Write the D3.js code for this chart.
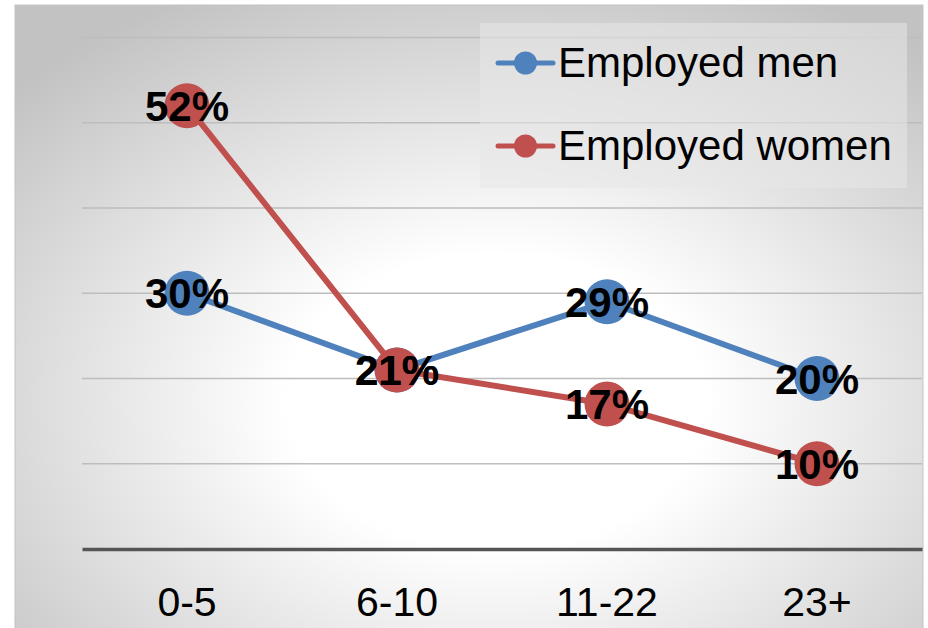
<!DOCTYPE html>
<html>
<head>
<meta charset="utf-8">
<script src="https://cdn.jsdelivr.net/npm/d3@7"></script>
<style>
  html, body { margin: 0; padding: 0; background: #fff; }
  svg { display: block; font-family: "Liberation Sans", Arial, sans-serif; }
</style>
</head>
<body>
<svg id="chart" width="928" height="628"></svg>
<script>
// Tenure groups on the x axis
const categories = ["0-5", "6-10", "11-22", "23+"];
// Share of employed respondents per group (%)
const menValues = [30, 21, 29, 20];
const womenValues = [52, 21, 17, 10];
const seriesNames = ["Employed men", "Employed women"];
const seriesColors = ["#4f81bd", "#c0504d"];
// Horizontal gridline positions (%)
const gridTicks = [10, 20, 30, 40, 50, 60];

const series = [
  { name: seriesNames[0], color: seriesColors[0], values: menValues },
  { name: seriesNames[1], color: seriesColors[1], values: womenValues }
];

const svg = d3.select("#chart");
const frame = { x: 15, y: 5, w: 908, h: 640 };
const plot = { left: 82, right: 922, top: 37.5, bottom: 549 };

// Radial background fill of the chart area
const defs = svg.append("defs");
const grad = defs.append("radialGradient")
  .attr("id", "bg")
  .attr("cx", 0.53).attr("cy", 0.62).attr("r", 0.72)
  .attr("fx", 0.53).attr("fy", 0.62);
grad.append("stop").attr("offset", 0).attr("stop-color", "#ffffff");
grad.append("stop").attr("offset", 0.32).attr("stop-color", "#ffffff");
grad.append("stop").attr("offset", 1).attr("stop-color", "#c2c2c2");

svg.append("rect")
  .attr("x", frame.x).attr("y", frame.y)
  .attr("width", frame.w).attr("height", frame.h)
  .attr("fill", "url(#bg)")
  .attr("stroke", "#c4c4c4").attr("stroke-width", 1);

const x = d3.scaleBand()
  .domain(categories)
  .range([plot.left, plot.right]);

const y = d3.scaleLinear()
  .domain([0, 60])
  .range([plot.bottom, plot.top]);

// Gridlines
svg.append("g")
  .selectAll("line")
  .data(gridTicks)
  .join("line")
  .attr("x1", plot.left).attr("x2", plot.right)
  .attr("y1", d => y(d)).attr("y2", d => y(d))
  .attr("stroke", "#bdbdbd").attr("stroke-width", 1.5);

// Category axis
const xAxis = svg.append("g")
  .attr("transform", `translate(0,${plot.bottom})`)
  .call(d3.axisBottom(x).tickSize(0).tickPadding(38));
xAxis.select(".domain")
  .attr("stroke", "#555").attr("stroke-width", 3.5);
xAxis.selectAll("text")
  .attr("font-size", 41)
  .attr("fill", "#000")
  .attr("font-family", "Liberation Sans, Arial, sans-serif");

// Legend
const legend = svg.append("g");
legend.append("rect")
  .attr("x", 480).attr("y", 23).attr("width", 427).attr("height", 165)
  .attr("fill", "#e8e8e8").attr("fill-opacity", 0.55);
const legendItems = legend.selectAll("g.item")
  .data(series)
  .join("g")
  .attr("class", "item")
  .attr("transform", (d, i) => `translate(0,${63 + i * 83})`);
legendItems.append("line")
  .attr("x1", 498).attr("x2", 553)
  .attr("stroke", d => d.color).attr("stroke-width", 5)
  .attr("stroke-linecap", "round");
legendItems.append("circle")
  .attr("cx", 525.5).attr("r", 11.5)
  .attr("fill", d => d.color);
legendItems.append("text")
  .attr("x", 558).attr("y", 14)
  .attr("font-size", 42)
  .attr("fill", "#000")
  .text(d => d.name);

// Series lines and markers
const line = d3.line()
  .x((d, i) => x(categories[i]) + x.bandwidth() / 2)
  .y(d => y(d));

const seriesG = svg.selectAll("g.series")
  .data(series)
  .join("g")
  .attr("class", "series");
seriesG.append("path")
  .attr("d", d => line(d.values))
  .attr("fill", "none")
  .attr("stroke", d => d.color)
  .attr("stroke-width", 6)
  .attr("stroke-linejoin", "round");
seriesG.selectAll("circle")
  .data(d => d.values.map(v => ({ v, color: d.color })))
  .join("circle")
  .attr("cx", (d, i) => x(categories[i]) + x.bandwidth() / 2)
  .attr("cy", d => y(d.v))
  .attr("r", 22.5)
  .attr("fill", d => d.color);

// Value labels
const labels = svg.append("g");
series.forEach(s => {
  labels.selectAll(null)
    .data(s.values)
    .join("text")
    .attr("x", (d, i) => x(categories[i]) + x.bandwidth() / 2)
    .attr("y", d => y(d) + 15)
    .attr("text-anchor", "middle")
    .attr("font-size", 42)
    .attr("font-weight", "bold")
    .attr("fill", "#000")
    .text(d => d + "%");
});
</script>
</body>
</html>
